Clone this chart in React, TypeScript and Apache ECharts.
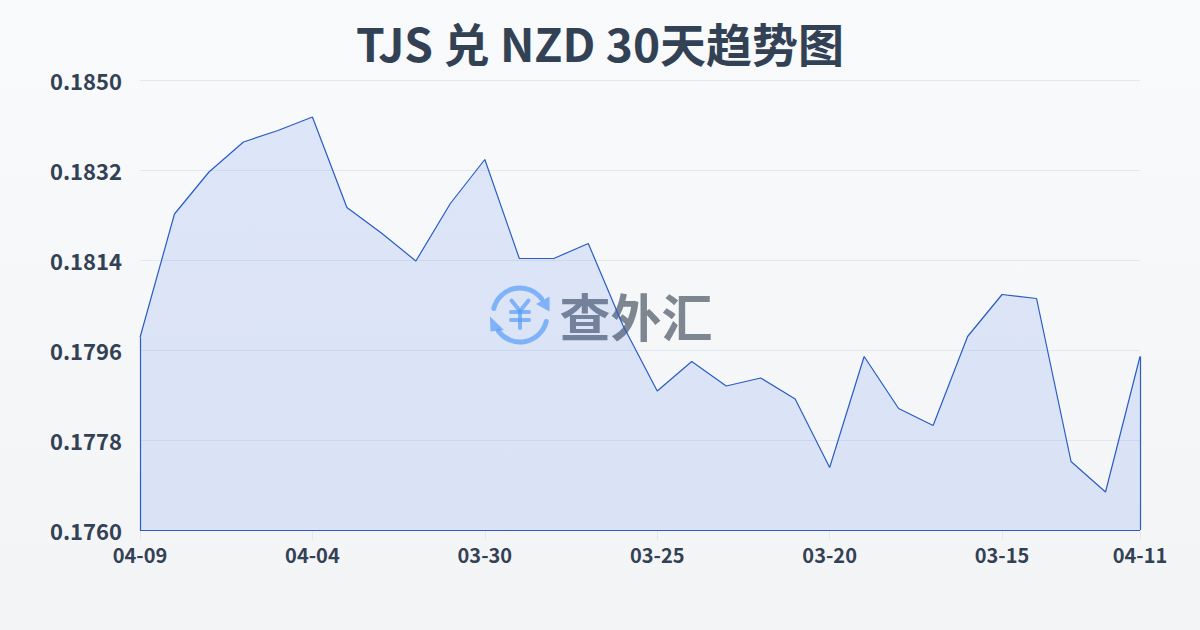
import React, { useEffect, useRef } from "react";
import * as echarts from "echarts";

const categories = [
  "04-09", "04-08", "04-07", "04-06", "04-05", "04-04", "04-03", "04-02", "04-01", "03-31",
  "03-30", "03-29", "03-28", "03-27", "03-26", "03-25", "03-24", "03-23", "03-22", "03-21",
  "03-20", "03-19", "03-18", "03-17", "03-16", "03-15", "03-14", "03-13", "03-12", "04-11",
];
const rates = [
  0.17985, 0.18232, 0.18316, 0.18376, 0.18399, 0.18426, 0.18245, 0.18194, 0.18138, 0.18253,
  0.18341, 0.18143, 0.18143, 0.18173, 0.1801, 0.17878, 0.17937, 0.17888, 0.17904, 0.17862,
  0.17725, 0.17947, 0.17843, 0.17809, 0.17987, 0.18071, 0.18063, 0.17737, 0.17676, 0.17947,
];
const yTicks = [0.176, 0.1778, 0.1796, 0.1814, 0.1832, 0.185];
const titleText = "TJS 兑 NZD 30天趋势图";
const watermarkText = "查外汇";

const FONT = "'Noto Sans CJK SC', 'Noto Sans', sans-serif";
const TEXT = "#334155";
const LINE = "#2a5cc6";
const LOGO = "#60a5fa";

export default function App() {
  const ref = useRef<HTMLDivElement>(null);
  useEffect(() => {
    const chart = echarts.init(ref.current!, undefined, { renderer: "svg" });
    const showTick = (i: number) => i % 5 === 0 || i === categories.length - 1;
    const yMin = yTicks[0];
    const first = categories[0];
    const last = categories[categories.length - 1];
    const logoStroke = { stroke: LOGO, fill: "none", lineCap: "round" as const, opacity: 0.7 };
    chart.setOption({
      animation: false,
      backgroundColor: new echarts.graphic.LinearGradient(0, 0, 0, 1, [
        { offset: 0, color: "#f8fafc" },
        { offset: 1, color: "#f3f4f6" },
      ]),
      title: {
        text: titleText,
        left: "center",
        top: 14,
        textStyle: { fontFamily: FONT, fontSize: 46, fontWeight: "bold", color: TEXT },
      },
      grid: { left: 140, right: 60, top: 80, bottom: 100 },
      xAxis: {
        type: "category",
        boundaryGap: false,
        data: categories,
        axisLine: { show: false },
        axisTick: { show: true, length: 10, interval: (i: number) => showTick(i), lineStyle: { color: "#e2e8f0" } },
        axisLabel: {
          interval: (i: number) => showTick(i),
          margin: 14,
          fontFamily: FONT,
          fontSize: 20,
          fontWeight: "bold",
          color: TEXT,
        },
      },
      yAxis: {
        type: "value",
        min: yMin,
        max: yTicks[yTicks.length - 1],
        axisLine: { show: false },
        axisTick: { show: false, customValues: yTicks },
        splitLine: { show: true, lineStyle: { color: "#e2e8f0", width: 1 } },
        axisLabel: {
          customValues: yTicks,
          margin: 18,
          fontFamily: FONT,
          fontSize: 22,
          fontWeight: "bold",
          color: TEXT,
          formatter: (v: number) => v.toFixed(4),
        },
      },
      graphic: [
        {
          type: "group",
          x: 520,
          y: 315,
          z: 0,
          silent: true,
          children: [
            { type: "arc", shape: { cx: 0, cy: 0, r: 27, startAngle: (194 * Math.PI) / 180, endAngle: (323 * Math.PI) / 180, clockwise: true }, style: { ...logoStroke, lineWidth: 5 } },
            { type: "arc", shape: { cx: 0, cy: 0, r: 27, startAngle: (14 * Math.PI) / 180, endAngle: (143 * Math.PI) / 180, clockwise: true }, style: { ...logoStroke, lineWidth: 5 } },
            { type: "polygon", shape: { points: [[16, -11], [29.5, -18.5], [29.5, -3.5]] }, style: { fill: LOGO, opacity: 0.7 } },
            { type: "polygon", shape: { points: [[-30, 1.5], [-29.5, 16.5], [-16, 15]] }, style: { fill: LOGO, opacity: 0.7 } },
            { type: "polyline", shape: { points: [[-8.5, -14.5], [0, -4], [8.5, -14.5]] }, style: { ...logoStroke, lineWidth: 4 } },
            { type: "line", shape: { x1: -9, y1: -3, x2: 9, y2: -3 }, style: { ...logoStroke, lineWidth: 4 } },
            { type: "line", shape: { x1: -9, y1: 5, x2: 9, y2: 5 }, style: { ...logoStroke, lineWidth: 4 } },
            { type: "line", shape: { x1: 0, y1: -4, x2: 0, y2: 13 }, style: { ...logoStroke, lineWidth: 4 } },
          ],
        },
        {
          type: "text",
          x: 636,
          y: 315,
          z: 0,
          silent: true,
          style: {
            text: watermarkText,
            fontFamily: "'Noto Sans CJK SC', sans-serif",
            fontSize: 51,
            fontWeight: "bold",
            fill: "#4b5563",
            opacity: 0.7,
            align: "center",
            verticalAlign: "middle",
          },
        },
      ],
      series: [
        {
          type: "line",
          data: rates,
          symbol: "none",
          smooth: false,
          lineStyle: { color: LINE, width: 1.2 },
          areaStyle: { color: "rgba(37,99,235,0.18)", origin: "start" },
          markLine: {
            silent: true,
            symbol: "none",
            label: { show: false },
            lineStyle: { color: LINE, width: 1.2, type: "solid" },
            data: [
              [{ coord: [first, yMin] }, { coord: [first, rates[0]] }],
              [{ coord: [first, yMin] }, { coord: [last, yMin] }],
              [{ coord: [last, yMin] }, { coord: [last, rates[rates.length - 1]] }],
            ],
          },
        },
      ],
    });
    return () => chart.dispose();
  }, []);
  return <div ref={ref} style={{ position: "absolute", left: 0, top: 0, width: 1200, height: 630 }} />;
}
